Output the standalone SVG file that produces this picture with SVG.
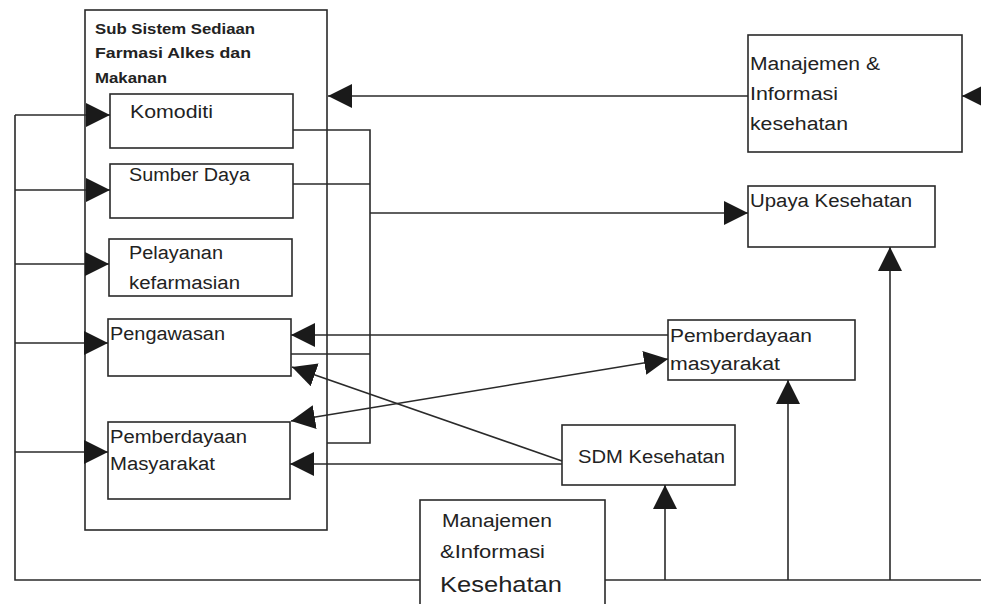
<svg xmlns="http://www.w3.org/2000/svg" width="981" height="604" viewBox="0 0 981 604">
<defs>
<marker id="ah" markerUnits="userSpaceOnUse" markerWidth="26" markerHeight="26" refX="24" refY="12" orient="auto-start-reverse" viewBox="0 0 26 26">
<path d="M0,0 L24,12 L0,24 z" fill="#1a1a1a"/>
</marker>
</defs>
<style>
.box{fill:#fff;stroke:#2a2a2a;stroke-width:1.6}
.ln{fill:none;stroke:#2a2a2a;stroke-width:1.6}
.ar{fill:none;stroke:#2a2a2a;stroke-width:1.6;marker-end:url(#ah)}
.t{font-family:"Liberation Sans",Arial,sans-serif;font-size:18px;fill:#222}
.tt{font-family:"Liberation Sans",Arial,sans-serif;font-size:15px;fill:#222;font-weight:bold}
</style>
<rect width="981" height="604" fill="#fff"/>

<g id="subsistem">
<rect class="box" x="85" y="10" width="242" height="520"/>
<text class="tt" x="95" y="34" textLength="160" lengthAdjust="spacingAndGlyphs">Sub Sistem Sediaan</text>
<text class="tt" x="95" y="58" textLength="156" lengthAdjust="spacingAndGlyphs">Farmasi  Alkes  dan</text>
<text class="tt" x="95" y="83" textLength="72" lengthAdjust="spacingAndGlyphs">Makanan</text>
</g>

<g id="komoditi">
<rect class="box" x="110" y="94" width="183" height="54"/>
<text class="t" x="130" y="118" textLength="83" lengthAdjust="spacingAndGlyphs">Komoditi</text>
</g>
<g id="sumberdaya">
<rect class="box" x="110" y="164" width="183" height="54"/>
<text class="t" x="129" y="181" textLength="121" lengthAdjust="spacingAndGlyphs">Sumber Daya</text>
</g>
<g id="pelayanan">
<rect class="box" x="109" y="239" width="183" height="57"/>
<text class="t" x="129" y="259" textLength="94" lengthAdjust="spacingAndGlyphs">Pelayanan</text>
<text class="t" x="129" y="289" textLength="111" lengthAdjust="spacingAndGlyphs">kefarmasian</text>
</g>
<g id="pengawasan">
<rect class="box" x="108" y="319" width="183" height="57"/>
<text class="t" x="110" y="340" textLength="115" lengthAdjust="spacingAndGlyphs">Pengawasan</text>
</g>
<g id="pemberdayaan-left">
<rect class="box" x="108" y="422" width="182" height="77"/>
<text class="t" x="110" y="443" textLength="137" lengthAdjust="spacingAndGlyphs">Pemberdayaan</text>
<text class="t" x="110" y="470" textLength="105" lengthAdjust="spacingAndGlyphs">Masyarakat</text>
</g>

<g id="manajemen-top">
<rect class="box" x="748" y="35" width="214" height="117"/>
<text class="t" x="750" y="70" textLength="130" lengthAdjust="spacingAndGlyphs">Manajemen &amp;</text>
<text class="t" x="750" y="100" textLength="88" lengthAdjust="spacingAndGlyphs">Informasi</text>
<text class="t" x="750" y="130" textLength="98" lengthAdjust="spacingAndGlyphs">kesehatan</text>
</g>
<g id="upaya">
<rect class="box" x="748" y="186" width="187" height="61"/>
<text class="t" x="750" y="207" textLength="162" lengthAdjust="spacingAndGlyphs">Upaya Kesehatan</text>
</g>
<g id="pemberdayaan-right">
<rect class="box" x="668" y="320" width="187" height="60"/>
<text class="t" x="670" y="342" textLength="142" lengthAdjust="spacingAndGlyphs">Pemberdayaan</text>
<text class="t" x="670" y="370" textLength="110" lengthAdjust="spacingAndGlyphs">masyarakat</text>
</g>
<g id="sdm">
<rect class="box" x="562" y="425" width="173" height="60"/>
<text class="t" x="578" y="463" textLength="147" lengthAdjust="spacingAndGlyphs" fill="#333">SDM Kesehatan</text>
</g>
<g id="manajemen-bottom">
<rect class="box" x="420" y="500" width="185" height="110"/>
<text class="t" x="442" y="527" textLength="110" lengthAdjust="spacingAndGlyphs">Manajemen</text>
<text class="t" x="440" y="558" textLength="105" lengthAdjust="spacingAndGlyphs">&amp;Informasi</text>
<text class="t" x="440" y="592" style="font-size:22px" textLength="122" lengthAdjust="spacingAndGlyphs">Kesehatan</text>
</g>

<g id="connectors">
<polyline class="ln" points="15,115 15,580 420,580"/>
<line class="ln" x1="605" y1="580" x2="981" y2="580"/>
<line class="ar" x1="15" y1="115" x2="110" y2="115"/>
<line class="ar" x1="15" y1="190" x2="110" y2="190"/>
<line class="ar" x1="15" y1="264" x2="109" y2="264"/>
<line class="ar" x1="15" y1="343" x2="108" y2="343"/>
<line class="ar" x1="15" y1="452" x2="108" y2="452"/>
<polyline class="ln" points="293,130 370,130 370,443 327,443"/>
<line class="ln" x1="293" y1="184" x2="370" y2="184"/>
<line class="ln" x1="291" y1="354" x2="370" y2="354"/>
<line class="ar" x1="370" y1="213" x2="748" y2="213"/>
<line class="ar" x1="748" y1="96" x2="328" y2="96"/>
<line class="ar" x1="981" y1="96" x2="962" y2="96"/>
<line class="ar" x1="668" y1="335" x2="291" y2="335"/>
<line class="ar" x1="668" y1="359" x2="291" y2="421" style="marker-start:url(#ah)"/>
<line class="ar" x1="562" y1="461" x2="292" y2="367"/>
<line class="ar" x1="562" y1="464" x2="290" y2="464"/>
<line class="ar" x1="665" y1="580" x2="665" y2="485"/>
<line class="ar" x1="788" y1="580" x2="788" y2="380"/>
<line class="ar" x1="890" y1="580" x2="890" y2="247"/>
</g>
</svg>
